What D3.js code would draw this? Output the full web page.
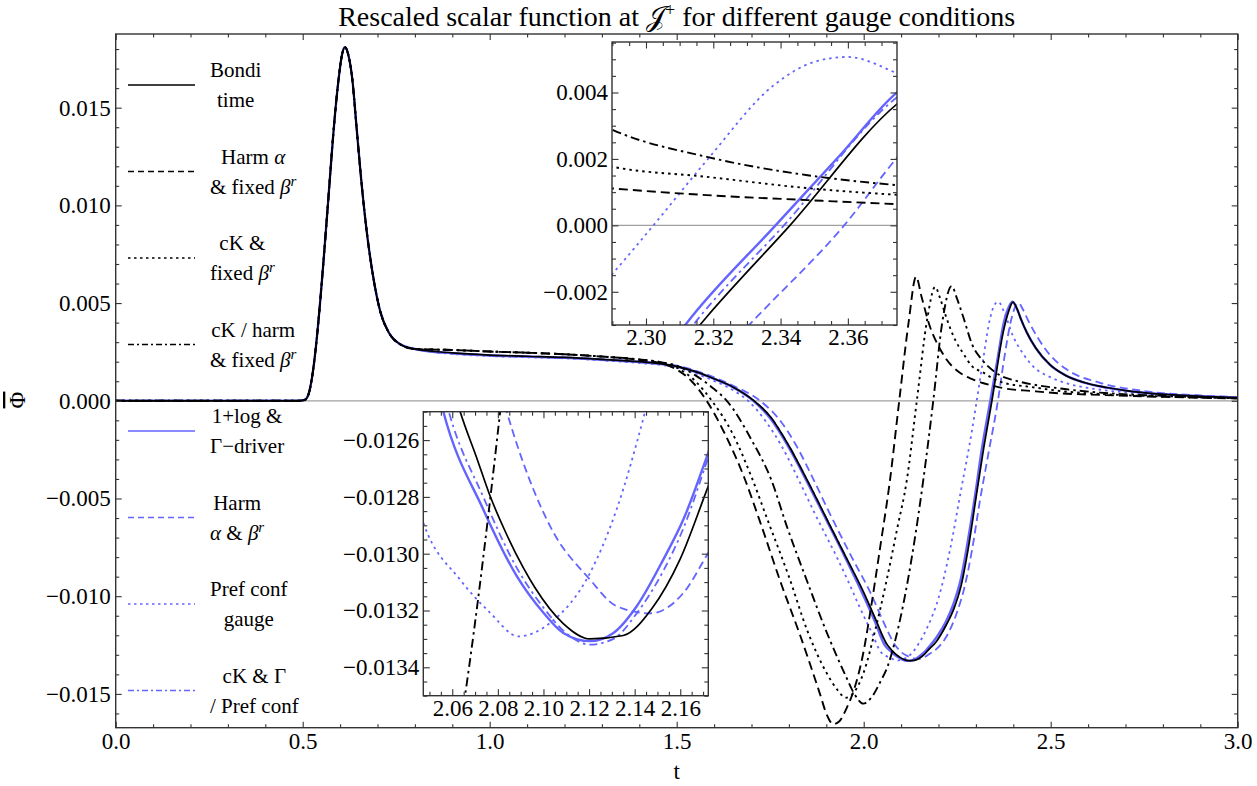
<!DOCTYPE html>
<html>
<head>
<meta charset="utf-8">
<script src="https://cdn.jsdelivr.net/npm/d3@7"></script>
<style>
  body { margin: 0; background: #fff; }
  svg text { font-family: "Liberation Serif", "Times New Roman", serif; fill: #000; }
</style>
</head>
<body>
<div id="chart"></div>
<script>
var width = 1257;
var height = 786;
var blue = "rgb(100,100,255)";

/* ---- data: [t, value] ---- */
// common pulse (all gauges overlap here)
var pulse = [[0, 0], [0.3, 0], [0.49, 0], [0.505, 0.00004], [0.515, 0.0003], [0.525, 0.0012],
  [0.535, 0.0027], [0.545, 0.0047], [0.555, 0.007], [0.57, 0.0107], [0.582, 0.0137],
  [0.595, 0.0163], [0.605, 0.0177], [0.613, 0.0181], [0.622, 0.0177], [0.633, 0.0164],
  [0.644, 0.014], [0.657, 0.0112], [0.671, 0.0087], [0.688, 0.0064], [0.707, 0.0046],
  [0.73, 0.0035], [0.76, 0.0029], [0.8, 0.00265]];

var bondiTime = [[0.9, 0.00245], [1.0, 0.00234], [1.1, 0.00228], [1.2, 0.00222], [1.3, 0.00212],
  [1.4, 0.002], [1.45, 0.00191], [1.5, 0.00176], [1.55, 0.00149], [1.6, 0.00113], [1.65, 0.00071],
  [1.707, 0], [1.75, -0.0008], [1.8, -0.0023], [1.85, -0.0041], [1.9, -0.006], [1.95, -0.0079],
  [2.0, -0.0098], [2.03, -0.0111], [2.0634, -0.012498], [2.0707, -0.012662], [2.0766, -0.012797],
  [2.0832, -0.012921], [2.0912, -0.01305], [2.0963, -0.01312], [2.1087, -0.013246], [2.1204, -0.0133],
  [2.135, -0.013288], [2.1475, -0.013194], [2.1599, -0.01302], [2.1723, -0.012762], [2.195, -0.0123],
  [2.22, -0.0115], [2.24, -0.0107], [2.26, -0.0095], [2.28, -0.0075], [2.3, -0.005], [2.3181, -0.00275],
  [2.3428, 0], [2.3748, 0.00367], [2.388, 0.0046], [2.399, 0.00505], [2.41, 0.0047], [2.42, 0.0042],
  [2.436, 0.0035], [2.46, 0.0027], [2.498, 0.00185], [2.54, 0.0013], [2.587, 0.00095], [2.65, 0.00068],
  [2.721, 0.00047], [2.85, 0.00028], [3.0, 0.00016]];

var harmFixed = [[0.9, 0.0026], [1.0, 0.00252], [1.1, 0.00246], [1.2, 0.00238], [1.3, 0.00226],
  [1.4, 0.0021], [1.45, 0.00195], [1.5, 0.0016], [1.54, 0.001], [1.58, 0], [1.629, -0.0017],
  [1.68, -0.0039], [1.723, -0.0062], [1.78, -0.0094], [1.83, -0.012], [1.883, -0.015], [1.9, -0.016],
  [1.919, -0.01655], [1.935, -0.0164], [1.955, -0.0157], [1.972, -0.0149], [2.0, -0.0128],
  [2.017, -0.01088], [2.044, -0.0075], [2.07, -0.0041], [2.095, 0], [2.12, 0.004], [2.14, 0.00635],
  [2.155, 0.0053], [2.177, 0.0038], [2.2, 0.0028], [2.222, 0.0021], [2.26, 0.0014], [2.2902, 0.00111],
  [2.3181, 0.00091], [2.348, 0.00076], [2.3748, 0.00064], [2.45, 0.0005], [2.525, 0.00038],
  [2.632, 0.0003], [2.8, 0.0002], [3.0, 0.00012]];

var ckFixed = [[0.9, 0.0026], [1.0, 0.00252], [1.1, 0.00246], [1.2, 0.00238], [1.3, 0.00226],
  [1.4, 0.0021], [1.45, 0.002], [1.5, 0.0017], [1.55, 0.001], [1.594, 0], [1.65, -0.0017],
  [1.7, -0.0039], [1.745, -0.0062], [1.8, -0.009], [1.85, -0.0118], [1.9, -0.0139], [1.93, -0.0148],
  [1.952, -0.0152], [1.975, -0.0149], [2.0, -0.0139], [2.03, -0.0118], [2.06, -0.0093], [2.09, -0.0065],
  [2.115, -0.0041], [2.142, 0], [2.17, 0.0042], [2.191, 0.00583], [2.205, 0.0052], [2.222, 0.0042],
  [2.245, 0.0031], [2.266, 0.00243], [2.2902, 0.00176], [2.3181, 0.00146], [2.348, 0.00112],
  [2.3748, 0.00092], [2.45, 0.0007], [2.525, 0.0005], [2.632, 0.00035], [2.8, 0.00022], [3.0, 0.00013]];

var ckHarmFixed = [[0.9, 0.0026], [1.0, 0.00252], [1.1, 0.00246], [1.2, 0.00238], [1.3, 0.00227],
  [1.4, 0.00212], [1.45, 0.002], [1.5, 0.0018], [1.55, 0.0013], [1.6, 0.0006], [1.634, 0],
  [1.7, -0.002], [1.754, -0.0041], [1.794, -0.0064], [1.85, -0.0093], [1.9, -0.0118], [1.95, -0.014],
  [1.975, -0.015], [1.999, -0.0155], [2.02, -0.0152], [2.044, -0.0144], [2.0656, -0.0135],
  [2.081, -0.0125], [2.105, -0.0105], [2.133, -0.0075], [2.159, -0.0041], [2.186, 0], [2.21, 0.004],
  [2.235, 0.00587], [2.25, 0.0052], [2.266, 0.0043], [2.2902, 0.00287], [2.3181, 0.00206],
  [2.348, 0.00151], [2.3748, 0.00121], [2.4, 0.00106], [2.525, 0.00063], [2.632, 0.00042],
  [2.8, 0.00025], [3.0, 0.00014]];

var onePlusLog = [[0.9, 0.00243], [1.0, 0.00232], [1.1, 0.00226], [1.2, 0.0022], [1.3, 0.0021],
  [1.4, 0.00198], [1.45, 0.0019], [1.5, 0.00175], [1.55, 0.00148], [1.6, 0.00112], [1.65, 0.0007],
  [1.705, 0], [1.75, -0.0009], [1.8, -0.0024], [1.85, -0.0042], [1.9, -0.0061], [1.95, -0.008],
  [2.0, -0.01], [2.03, -0.0113], [2.0561, -0.0125], [2.0736, -0.012844], [2.0883, -0.013079],
  [2.1, -0.013208], [2.1087, -0.013279], [2.1204, -0.013308], [2.1307, -0.013279], [2.1409, -0.013185],
  [2.1526, -0.01302], [2.1614, -0.012879], [2.1723, -0.012644], [2.195, -0.0121], [2.22, -0.0113],
  [2.24, -0.0104], [2.26, -0.0091], [2.28, -0.007], [2.302, -0.0043], [2.3136, -0.00275],
  [2.3385, 0], [2.358, 0.00215], [2.3748, 0.00402], [2.388, 0.0048], [2.398, 0.00507], [2.41, 0.0047],
  [2.42, 0.0042], [2.436, 0.0035], [2.46, 0.0027], [2.498, 0.00184], [2.54, 0.0013], [2.587, 0.00094],
  [2.65, 0.00067], [2.721, 0.00047], [2.85, 0.00028], [3.0, 0.00016]];

var harmHarm = [[0.9, 0.00243], [1.0, 0.00232], [1.1, 0.00226], [1.2, 0.00221], [1.3, 0.00212],
  [1.4, 0.002], [1.45, 0.00192], [1.5, 0.0018], [1.55, 0.00155], [1.6, 0.0012], [1.65, 0.00078],
  [1.723, 0], [1.78, -0.0011], [1.82, -0.0023], [1.86, -0.0038], [1.91, -0.0058], [1.968, -0.008],
  [2.02, -0.0099], [2.05, -0.0112], [2.0839, -0.0125], [2.1029, -0.012903], [2.1204, -0.013091],
  [2.1321, -0.013185], [2.1467, -0.01321], [2.1614, -0.013138], [2.1723, -0.012997],
  [2.195, -0.0127], [2.22, -0.0121], [2.25, -0.0108], [2.27, -0.0095], [2.29, -0.0076],
  [2.31, -0.0052], [2.333, -0.00275], [2.3589, 0], [2.3748, 0.00206], [2.395, 0.0042],
  [2.405, 0.0048], [2.414, 0.005], [2.425, 0.0047], [2.44, 0.0041], [2.463, 0.0033], [2.5, 0.0023],
  [2.543, 0.0016], [2.632, 0.00092], [2.75, 0.0005], [2.9, 0.00027], [3.0, 0.00019]];

var prefConf = [[0.9, 0.0024], [1.0, 0.00229], [1.1, 0.00223], [1.2, 0.00217], [1.3, 0.00207],
  [1.4, 0.00193], [1.45, 0.00185], [1.5, 0.0017], [1.55, 0.0014], [1.6, 0.00102], [1.65, 0.00055],
  [1.691, 0], [1.74, -0.0011], [1.78, -0.0023], [1.825, -0.004], [1.87, -0.0058], [1.928, -0.008],
  [1.96, -0.0093], [1.99, -0.0106], [2.02, -0.0118], [2.0473, -0.012891], [2.0634, -0.013091],
  [2.0766, -0.013208], [2.089, -0.013291], [2.1029, -0.013244], [2.1204, -0.013068],
  [2.1321, -0.012844], [2.1446, -0.0125], [2.17, -0.0116], [2.2, -0.0101], [2.23, -0.0077],
  [2.26, -0.0046], [2.2902, -0.00144], [2.3022, 0], [2.3181, 0.00196], [2.338, 0.00422],
  [2.35, 0.00492], [2.36, 0.00507], [2.3748, 0.00457], [2.4, 0.00328], [2.43, 0.0023],
  [2.454, 0.00174], [2.5, 0.0012], [2.543, 0.00089], [2.62, 0.0006], [2.721, 0.0004],
  [2.85, 0.00026], [3.0, 0.00016]];

var ckGammaPref = [[0.9, 0.00243], [1.0, 0.00232], [1.1, 0.00226], [1.2, 0.0022], [1.3, 0.0021],
  [1.4, 0.00198], [1.45, 0.0019], [1.5, 0.00177], [1.55, 0.0015], [1.6, 0.00114], [1.65, 0.00072],
  [1.707, 0], [1.75, -0.0008], [1.8, -0.0023], [1.85, -0.0041], [1.9, -0.006], [1.95, -0.0079],
  [2.0, -0.0099], [2.03, -0.0112], [2.0585, -0.0125], [2.0736, -0.0128], [2.0883, -0.01305],
  [2.1, -0.01319], [2.11, -0.01328], [2.1204, -0.01332], [2.1307, -0.0133], [2.1409, -0.01321],
  [2.1526, -0.01306], [2.1614, -0.01291], [2.1723, -0.01266], [2.195, -0.0121], [2.22, -0.0114],
  [2.24, -0.0105], [2.26, -0.0092], [2.28, -0.0072], [2.302, -0.0046], [2.316, -0.00275], [2.341, 0],
  [2.3748, 0.00387], [2.388, 0.0047], [2.399, 0.00505], [2.41, 0.0047], [2.42, 0.0042],
  [2.436, 0.0035], [2.46, 0.0027], [2.498, 0.00185], [2.54, 0.0013], [2.587, 0.00095],
  [2.65, 0.00068], [2.721, 0.00047], [2.85, 0.00028], [3.0, 0.00016]];

var legendLabels = [["Bondi", "time"], ["Harm α", "& fixed β^r"], ["cK &", "fixed β^r"],
  ["cK / harm", "& fixed β^r"], ["1+log &", "Γ−driver"], ["Harm", "α & β^r"],
  ["Pref conf", "gauge"], ["cK & Γ", "/ Pref conf"]];

// axis ranges and tick labels
var mainX = [0, 3], mainY = [-0.01673, 0.01877];
var mainXTicks = [0, 0.5, 1, 1.5, 2, 2.5, 3];
var mainYTicks = [-0.015, -0.01, -0.005, 0, 0.005, 0.01, 0.015];
var in1X = [2.2899, 2.3746], in1Y = [-0.003, 0.00552];
var in1XTicks = [2.30, 2.32, 2.34, 2.36];
var in1YTicks = [-0.002, 0, 0.002, 0.004];
var in2X = [2.0473, 2.1723], in2Y = [-0.0135, -0.0125];
var in2XTicks = [2.06, 2.08, 2.10, 2.12, 2.14, 2.16];
var in2YTicks = [-0.0134, -0.0132, -0.013, -0.0128, -0.0126];

/* ---- styles ---- */
var seriesData = [bondiTime, harmFixed, ckFixed, ckHarmFixed, onePlusLog, harmHarm, prefConf, ckGammaPref]
  .map(function(tail) { return pulse.concat(tail); });
var seriesColor = ["#000", "#000", "#000", "#000", blue, blue, blue, blue];
var seriesDash = [null, "9,5", "2.5,4", "9,4,2.5,4", null, "8,4.5", "2.5,4", "8,4,2.5,4"];
var legendDash = [null, "6,4", "2.5,3.5", "6,3,2,3", null, "6,4", "2.5,3.5", "6,3,2,3"];
var seriesWidth = [1.7, 1.9, 1.9, 1.9, 2.4, 1.8, 1.8, 1.8];
var drawOrder = [4, 7, 5, 6, 0, 1, 2, 3];

var svg = d3.select("#chart").append("svg")
  .attr("width", width).attr("height", height);
var defs = svg.append("defs");
var clipCount = 0;

function minorValues(lo, hi, step, majors) {
  return d3.range(Math.ceil(lo / step - 1e-6), Math.floor(hi / step + 1e-6) + 1)
    .map(function(k) { return +(k * step).toFixed(6); })
    .filter(function(v) {
      return !majors.some(function(m) { return Math.abs(m - v) < step / 10; });
    });
}

function drawPanel(box, xDom, yDom, o) {
  var x = d3.scaleLinear().domain(xDom).range([box.left, box.right]);
  var y = d3.scaleLinear().domain(yDom).range([box.bottom, box.top]);
  var g = svg.append("g");
  if (o.background) {
    g.append("rect").attr("x", box.left).attr("y", box.top)
      .attr("width", box.right - box.left).attr("height", box.bottom - box.top)
      .attr("fill", "#fff");
  }
  var id = "clip" + (clipCount++);
  defs.append("clipPath").attr("id", id).append("rect")
    .attr("x", box.left).attr("y", box.top)
    .attr("width", box.right - box.left).attr("height", box.bottom - box.top);
  var plot = g.append("g").attr("clip-path", "url(#" + id + ")");

  if (yDom[0] < 0 && yDom[1] > 0) {
    plot.append("line")
      .attr("x1", box.left).attr("x2", box.right)
      .attr("y1", y(0)).attr("y2", y(0))
      .attr("stroke", "#a0a0a0").attr("stroke-width", 1.3);
  }

  var line = d3.line()
    .x(function(d) { return x(d[0]); })
    .y(function(d) { return y(d[1]); })
    .curve(d3.curveMonotoneX);

  drawOrder.forEach(function(i) {
    plot.append("path")
      .datum(seriesData[i])
      .attr("d", line)
      .attr("fill", "none")
      .attr("stroke", seriesColor[i])
      .attr("stroke-width", seriesWidth[i])
      .attr("stroke-dasharray", seriesDash[i]);
  });

  g.append("rect").attr("x", box.left).attr("y", box.top)
    .attr("width", box.right - box.left).attr("height", box.bottom - box.top)
    .attr("fill", "none").attr("stroke", "#333").attr("stroke-width", 1.4);

  var xMinor = minorValues(xDom[0], xDom[1], o.xStep, o.xTicks);
  var yMinor = minorValues(yDom[0], yDom[1], o.yStep, o.yTicks);

  function addAxis(axis, tx, ty) {
    var a = g.append("g")
      .attr("transform", "translate(" + tx + "," + ty + ")")
      .call(axis)
      .attr("font-size", 23)
      .attr("font-family", "Liberation Serif, serif")
      .attr("color", "#333");
    a.select(".domain").remove();
    a.selectAll("line").attr("stroke-width", 1.1);
    return a;
  }

  addAxis(d3.axisBottom(x).tickValues(o.xTicks).tickSize(-o.major).tickPadding(o.pad)
    .tickFormat(d3.format(o.xFmt)), 0, box.bottom);
  addAxis(d3.axisBottom(x).tickValues(xMinor).tickSize(-o.minor).tickFormat(""), 0, box.bottom);
  addAxis(d3.axisTop(x).tickValues(o.xTicks).tickSize(-o.major).tickFormat(""), 0, box.top);
  addAxis(d3.axisTop(x).tickValues(xMinor).tickSize(-o.minor).tickFormat(""), 0, box.top);
  addAxis(d3.axisLeft(y).tickValues(o.yTicks).tickSize(-o.major).tickPadding(o.pad)
    .tickFormat(d3.format(o.yFmt)), box.left, 0);
  addAxis(d3.axisLeft(y).tickValues(yMinor).tickSize(-o.minor).tickFormat(""), box.left, 0);
  addAxis(d3.axisRight(y).tickValues(o.yTicks).tickSize(-o.major).tickFormat(""), box.right, 0);
  addAxis(d3.axisRight(y).tickValues(yMinor).tickSize(-o.minor).tickFormat(""), box.right, 0);
  g.selectAll("text").attr("fill", "#000");
  return {x: x, y: y, g: g};
}

/* Main panel */
var main = drawPanel({left: 115.7, right: 1237.7, top: 34, bottom: 727.7}, mainX, mainY, {
  xTicks: mainXTicks, yTicks: mainYTicks, xStep: 0.1, yStep: 0.001,
  xFmt: ".1f", yFmt: ".3f", major: 6, minor: 3.5, pad: 5
});

/* Legend */
function richText(sel, str) {
  str.split(/(α|β|\^r)/).forEach(function(part) {
    if (!part) return;
    if (part === "α" || part === "β") {
      sel.append("tspan").style("font-style", "italic").text(part);
    } else if (part === "^r") {
      sel.append("tspan").style("font-style", "italic")
        .attr("font-size", 15).attr("dy", -8).text("r");
    } else {
      sel.append("tspan").text(part);
    }
  });
}

var legend = svg.append("g").attr("class", "legend");
legendLabels.forEach(function(lines, i) {
  var ly = 85 + i * 86.5;
  var item = legend.append("g");
  item.append("line")
    .attr("x1", 128).attr("x2", 195).attr("y1", ly).attr("y2", ly)
    .attr("stroke", seriesColor[i]).attr("stroke-width", 1.3)
    .attr("stroke-dasharray", legendDash[i]);
  var texts = lines.map(function(s, j) {
    var t = item.append("text")
      .attr("x", 210)
      .attr("y", ly + (j === 0 ? -8 : 22))
      .attr("font-size", 21);
    richText(t, s);
    return t;
  });
  var widths = texts.map(function(t) { return t.node().getComputedTextLength(); });
  var maxW = d3.max(widths);
  texts.forEach(function(t, j) { t.attr("x", 210 + (maxW - widths[j]) / 2); });
});

/* Insets */
drawPanel({left: 612, right: 897, top: 42, bottom: 325}, in1X, in1Y, {
  background: true, xTicks: in1XTicks, yTicks: in1YTicks, xStep: 0.005, yStep: 0.0005,
  xFmt: ".2f", yFmt: ".3f", major: 6.5, minor: 4, pad: 4
});
drawPanel({left: 423.3, right: 708.3, top: 411.7, bottom: 695.7}, in2X, in2Y, {
  background: true, xTicks: in2XTicks, yTicks: in2YTicks, xStep: 0.005, yStep: 0.00005,
  xFmt: ".2f", yFmt: ".4f", major: 6.5, minor: 4, pad: 4
});

/* Title and axis labels */
var title = svg.append("text")
  .attr("x", 676.7).attr("y", 26)
  .attr("text-anchor", "middle")
  .attr("font-size", 28);
title.append("tspan").text("Rescaled scalar function at ");
title.append("tspan").text("\uD835\uDCA5");
title.append("tspan").attr("font-size", 18).attr("dy", -10).text("+");
title.append("tspan").attr("dy", 10).text(" for different gauge conditions");

svg.append("text")
  .attr("x", 676.7).attr("y", 779)
  .attr("text-anchor", "middle")
  .attr("font-size", 23)
  .text("t");

svg.append("text")
  .attr("transform", "translate(25,400) rotate(-90)")
  .attr("text-anchor", "middle")
  .attr("font-size", 23)
  .style("text-decoration", "overline")
  .text("Φ");
</script>
</body>
</html>
